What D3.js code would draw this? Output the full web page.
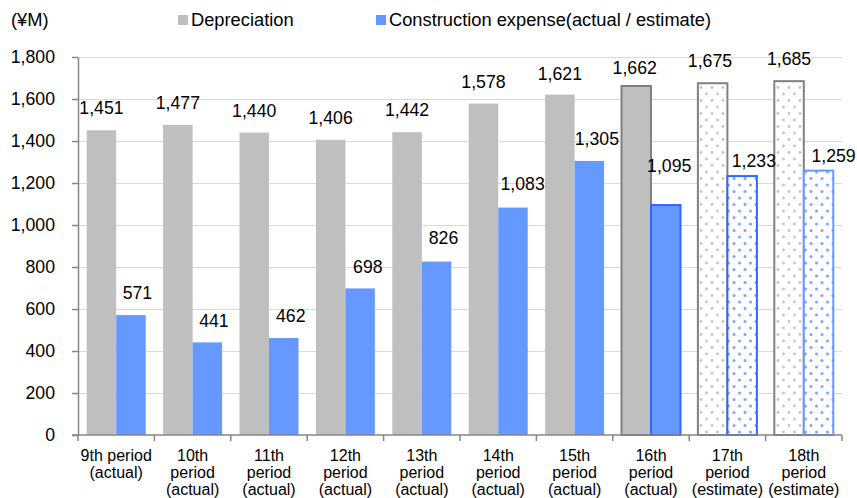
<!DOCTYPE html>
<html>
<head>
<meta charset="utf-8">
<script src="https://cdn.jsdelivr.net/npm/d3@7/dist/d3.min.js"></script>
<style>
  html, body { margin: 0; padding: 0; background: #fff; }
  svg { display: block; font-family: "Liberation Sans", Arial, sans-serif; }
</style>
</head>
<body>
<svg id="chart" width="857" height="498"></svg>
<script>
// ---- data ----
const categories = [
  ["9th period", "(actual)"],
  ["10th", "period", "(actual)"],
  ["11th", "period", "(actual)"],
  ["12th", "period", "(actual)"],
  ["13th", "period", "(actual)"],
  ["14th", "period", "(actual)"],
  ["15th", "period", "(actual)"],
  ["16th", "period", "(actual)"],
  ["17th", "period", "(estimate)"],
  ["18th", "period", "(estimate)"]
];
const seriesNames = ["Depreciation", "Construction expense(actual / estimate)"];
const depreciation = [1451, 1477, 1440, 1406, 1442, 1578, 1621, 1662, 1675, 1685];
const construction = [571, 441, 462, 698, 826, 1083, 1305, 1095, 1233, 1259];
const yTicks = [0, 200, 400, 600, 800, 1000, 1200, 1400, 1600, 1800];
const unitLabel = "(¥M)";

// manual label placement of the original (pixel nudges: dx, gap above bar)
const depLabelDx  = [0, 0, 0, 0, 0, 0, 0, -1.5, -2.7, 0];
const depLabelGap = [16, 16, 16, 16, 16, 16, 15, 12, 16.5, 16];
const conLabelDx  = [6.5, 6.6, 7, 7.7, 7, 9.7, 7.5, 3.5, 11.7, 15];
const conLabelGap = [16, 15.7, 16, 15.7, 18, 17.6, 16, 32.7, 9.4, 8.9];

// ---- styles ----
const GRAY = "#BFBFBF", BLUE = "#6699FF";
const AXIS = "#868686", GRID = "#D9D9D9";

const svg = d3.select("#chart");
const M = { left: 78, right: 842, top: 57, bottom: 435 };

const x0 = d3.scaleBand().domain(d3.range(categories.length)).range([M.left, M.right]).paddingInner(0).paddingOuter(0);
const x1 = d3.scaleBand().domain([0, 1]).range([0, x0.bandwidth()]).paddingInner(0).paddingOuter(0.295);
const y = d3.scaleLinear().domain([0, 1800]).range([M.bottom, M.top]);

// patterns
const defs = svg.append("defs");
function dotPattern(id, color, r) {
  const p = defs.append("pattern").attr("id", id).attr("patternUnits", "userSpaceOnUse")
    .attr("width", 11).attr("height", 13);
  p.append("rect").attr("width", 11).attr("height", 13).attr("fill", "#fff");
  p.append("circle").attr("cx", 2.5).attr("cy", 3).attr("r", r).attr("fill", color);
  p.append("circle").attr("cx", 8).attr("cy", 9.5).attr("r", r).attr("fill", color);
}
dotPattern("dotGray", "#C4C4C4", 1.4);
dotPattern("dotBlue", "#7AA4FF", 1.5);

// gridlines
svg.append("g").selectAll("line").data(yTicks.filter(d => d > 0)).join("line")
  .attr("x1", M.left).attr("x2", M.right)
  .attr("y1", d => Math.round(y(d)) + 0.5).attr("y2", d => Math.round(y(d)) + 0.5)
  .attr("stroke", GRID).attr("stroke-width", 1);

// bar styles per category (16th outlined, 17th/18th patterned estimates)
function depStyle(i) {
  if (i >= 8) return { fill: "url(#dotGray)", stroke: "#808080" };
  if (i === 7) return { fill: GRAY, stroke: "#808080" };
  return { fill: GRAY, stroke: "none" };
}
function conStyle(i) {
  if (i === 9) return { fill: "url(#dotBlue)", stroke: "#6699FF" };
  if (i === 8) return { fill: "url(#dotBlue)", stroke: "#3366FF" };
  if (i === 7) return { fill: BLUE, stroke: "#3366FF" };
  return { fill: BLUE, stroke: "none" };
}

const bars = svg.append("g");
depreciation.forEach((v, i) => {
  const s = depStyle(i);
  bars.append("rect")
    .attr("x", x0(i) + x1(0)).attr("width", x1.bandwidth())
    .attr("y", y(v)).attr("height", y(0) - y(v))
    .attr("fill", s.fill).attr("stroke", s.stroke).attr("stroke-width", 2);
});
construction.forEach((v, i) => {
  const s = conStyle(i);
  bars.append("rect")
    .attr("x", x0(i) + x1(1)).attr("width", x1.bandwidth())
    .attr("y", y(v)).attr("height", y(0) - y(v))
    .attr("fill", s.fill).attr("stroke", s.stroke).attr("stroke-width", 2);
});

// value labels
const fmt = d3.format(",");
const labels = svg.append("g").attr("font-size", "17.7px").attr("fill", "#000").attr("text-anchor", "middle");
depreciation.forEach((v, i) => {
  labels.append("text")
    .attr("x", x0(i) + x1(0) + x1.bandwidth() / 2 + depLabelDx[i])
    .attr("y", y(v) - depLabelGap[i])
    .text(fmt(v));
});
construction.forEach((v, i) => {
  labels.append("text")
    .attr("x", x0(i) + x1(1) + x1.bandwidth() / 2 + conLabelDx[i])
    .attr("y", y(v) - conLabelGap[i])
    .text(fmt(v));
});

// y axis
const yAxis = svg.append("g").attr("transform", `translate(${M.left},0)`)
  .call(d3.axisLeft(y).tickValues(yTicks).tickSize(6).tickSizeOuter(0).tickPadding(17).tickFormat(fmt));
yAxis.select(".domain").attr("stroke", AXIS).attr("stroke-width", 1.5);
yAxis.selectAll(".tick line").attr("stroke", AXIS).attr("stroke-width", 1.5);
yAxis.selectAll(".tick text").attr("font-size", "17.7px").attr("fill", "#000")
  .attr("font-family", "Liberation Sans, Arial, sans-serif");

// x axis
const xAxis = svg.append("g").attr("transform", `translate(0,${M.bottom})`)
  .call(d3.axisBottom(x0).tickSize(0).tickSizeOuter(0).tickFormat(""));
xAxis.select(".domain").attr("stroke", AXIS).attr("stroke-width", 1.5)
  .attr("d", `M${M.left - 6},0H${M.right}`);
// boundary ticks
const bounds = categories.map((c, i) => x0(i)).concat([x0.range()[1]]);
xAxis.selectAll(".bound").data(bounds).join("line").attr("class", "bound")
  .attr("x1", d => d).attr("x2", d => d).attr("y1", 0).attr("y2", 6)
  .attr("stroke", AXIS).attr("stroke-width", 1.5);
// category labels
xAxis.selectAll(".tick").each(function(d) {
  const t = d3.select(this).append("text")
    .attr("text-anchor", "middle").attr("fill", "#000")
    .attr("font-size", "16px").attr("font-family", "Liberation Sans, Arial, sans-serif");
  categories[d].forEach((line, k) => {
    t.append("tspan").attr("x", 0).attr("y", 25.5 + k * 17.2).text(line);
  });
});

// unit label
svg.append("text").attr("x", 11).attr("y", 26).attr("font-size", "18.3px").attr("fill", "#000").text(unitLabel);

// legend
const legend = svg.append("g").attr("font-size", "18.3px").attr("fill", "#000");
const legendX = [178, 376];
const legendColors = [GRAY, BLUE];
seriesNames.forEach((name, k) => {
  legend.append("rect").attr("x", legendX[k]).attr("y", 15).attr("width", 10).attr("height", 10).attr("fill", legendColors[k]);
  legend.append("text").attr("x", legendX[k] + 13).attr("y", 25.5).text(name);
});
</script>
</body>
</html>
